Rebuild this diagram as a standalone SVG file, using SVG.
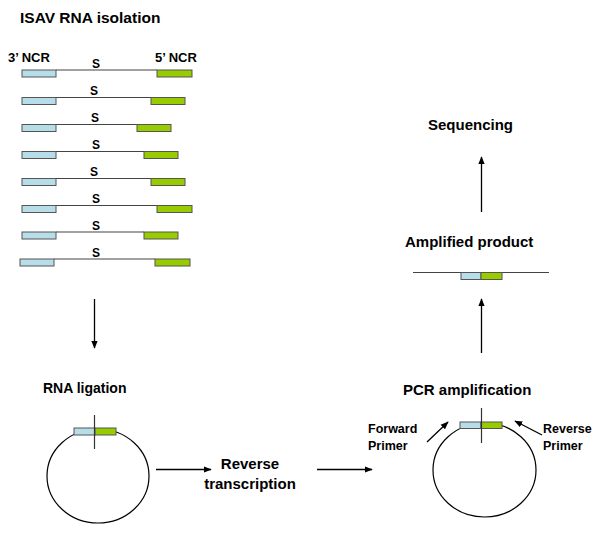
<svg xmlns="http://www.w3.org/2000/svg" width="600" height="534" viewBox="0 0 600 534">
<defs>
<style>
text{font-family:"Liberation Sans",Arial,sans-serif;font-weight:bold;fill:#000}
.t15{font-size:15px}
.t14{font-size:14px}
.t13{font-size:12.5px}
.ncr{font-size:13px}
.title{font-size:15.5px}
.s{font-size:12px;text-anchor:middle}
.strand{stroke:#444;stroke-width:1.2;fill:none}
.b{fill:#B7DDE8;stroke:#555;stroke-width:1}
.g{fill:#99CC00;stroke:#555;stroke-width:1}
.arr{stroke:#000;stroke-width:1.3;fill:none;marker-end:url(#ah)}
.circ{fill:none;stroke:#000;stroke-width:1.2}
.tick{stroke:#333;stroke-width:1.2}
</style>
<marker id="ah" viewBox="0 0 10 8" refX="9" refY="4" markerWidth="8" markerHeight="7" markerUnits="userSpaceOnUse" orient="auto">
<path d="M0,0 L10,4 L0,8 z" fill="#000"/>
</marker>
</defs>
<rect width="600" height="534" fill="#fff"/>

<g id="title"><text class="title" x="20" y="23">ISAV RNA isolation</text></g>

<g id="strands">
<text class="ncr" x="8" y="62">3’ NCR</text>
<text class="ncr" x="155" y="62">5’ NCR</text>
<g id="strand1"><line class="strand" x1="56" y1="70" x2="157" y2="70"/><rect class="b" x="22" y="70" width="34" height="7"/><rect class="g" x="157" y="70" width="35" height="7"/><text class="s" x="96" y="68">S</text></g>
<g id="strand2"><line class="strand" x1="56" y1="97.5" x2="151" y2="97.5"/><rect class="b" x="22" y="97.5" width="34" height="7"/><rect class="g" x="151" y="97.5" width="34" height="7"/><text class="s" x="94" y="95">S</text></g>
<g id="strand3"><line class="strand" x1="56" y1="124.5" x2="137" y2="124.5"/><rect class="b" x="22" y="124.5" width="34" height="7"/><rect class="g" x="137" y="124.5" width="34" height="7"/><text class="s" x="95" y="122">S</text></g>
<g id="strand4"><line class="strand" x1="56" y1="151.5" x2="144" y2="151.5"/><rect class="b" x="22" y="151.5" width="34" height="7"/><rect class="g" x="144" y="151.5" width="34" height="7"/><text class="s" x="96" y="149">S</text></g>
<g id="strand5"><line class="strand" x1="56" y1="178.5" x2="151" y2="178.5"/><rect class="b" x="22" y="178.5" width="34" height="7"/><rect class="g" x="151" y="178.5" width="34" height="7"/><text class="s" x="94" y="176">S</text></g>
<g id="strand6"><line class="strand" x1="56" y1="205.5" x2="157" y2="205.5"/><rect class="b" x="22" y="205.5" width="34" height="7"/><rect class="g" x="157" y="205.5" width="35" height="7"/><text class="s" x="96" y="203">S</text></g>
<g id="strand7"><line class="strand" x1="56" y1="232" x2="144" y2="232"/><rect class="b" x="22" y="232" width="34" height="7"/><rect class="g" x="144" y="232" width="34" height="7"/><text class="s" x="96" y="230">S</text></g>
<g id="strand8"><line class="strand" x1="54" y1="259" x2="155" y2="259"/><rect class="b" x="20" y="259" width="34" height="7"/><rect class="g" x="155" y="259" width="35" height="7"/><text class="s" x="96" y="257">S</text></g>
</g>

<g id="ligation">
<text class="t14" x="43" y="393">RNA ligation</text>
<ellipse class="circ" cx="98" cy="476" rx="51" ry="47"/>
<rect class="b" x="74" y="428" width="21" height="7"/>
<rect class="g" x="95" y="428" width="21" height="7"/>
<line class="tick" x1="94.5" y1="415" x2="94.5" y2="449"/>
</g>

<g id="rt">
<text class="t15" x="250" y="469" text-anchor="middle">Reverse</text>
<text class="t15" x="250" y="489" text-anchor="middle">transcription</text>
</g>

<g id="pcr">
<text class="t15" x="403" y="395">PCR amplification</text>
<ellipse class="circ" cx="484.5" cy="470" rx="51.5" ry="47"/>
<rect class="b" x="460" y="422" width="21" height="6.5"/>
<rect class="g" x="481" y="422" width="21" height="6.5"/>
<line class="tick" x1="481.5" y1="408" x2="481.5" y2="443"/>
<text class="t13" x="368" y="433">Forward</text>
<text class="t13" x="368" y="450">Primer</text>
<text class="t13" x="543" y="433">Reverse</text>
<text class="t13" x="543" y="450">Primer</text>
</g>

<g id="product">
<text class="t15" x="405" y="247">Amplified product</text>
<line class="strand" x1="413" y1="272.5" x2="549" y2="272.5"/>
<rect class="b" x="461" y="272.5" width="20" height="7"/>
<rect class="g" x="481" y="272.5" width="21" height="7"/>
</g>

<g id="sequencing"><text class="t15" x="428" y="130">Sequencing</text></g>

<g id="connectors">
<line class="arr" x1="94.5" y1="299" x2="94.5" y2="348"/>
<line class="arr" x1="156" y1="469.5" x2="211" y2="469.5"/>
<line class="arr" x1="317" y1="469.5" x2="372" y2="469.5"/>
<line class="arr" x1="481.5" y1="353" x2="481.5" y2="299"/>
<line class="arr" x1="481.5" y1="212" x2="481.5" y2="157"/>
<line class="arr" x1="427" y1="442" x2="448" y2="422"/>
<line class="arr" x1="542" y1="435" x2="515" y2="421"/>
</g>
</svg>
